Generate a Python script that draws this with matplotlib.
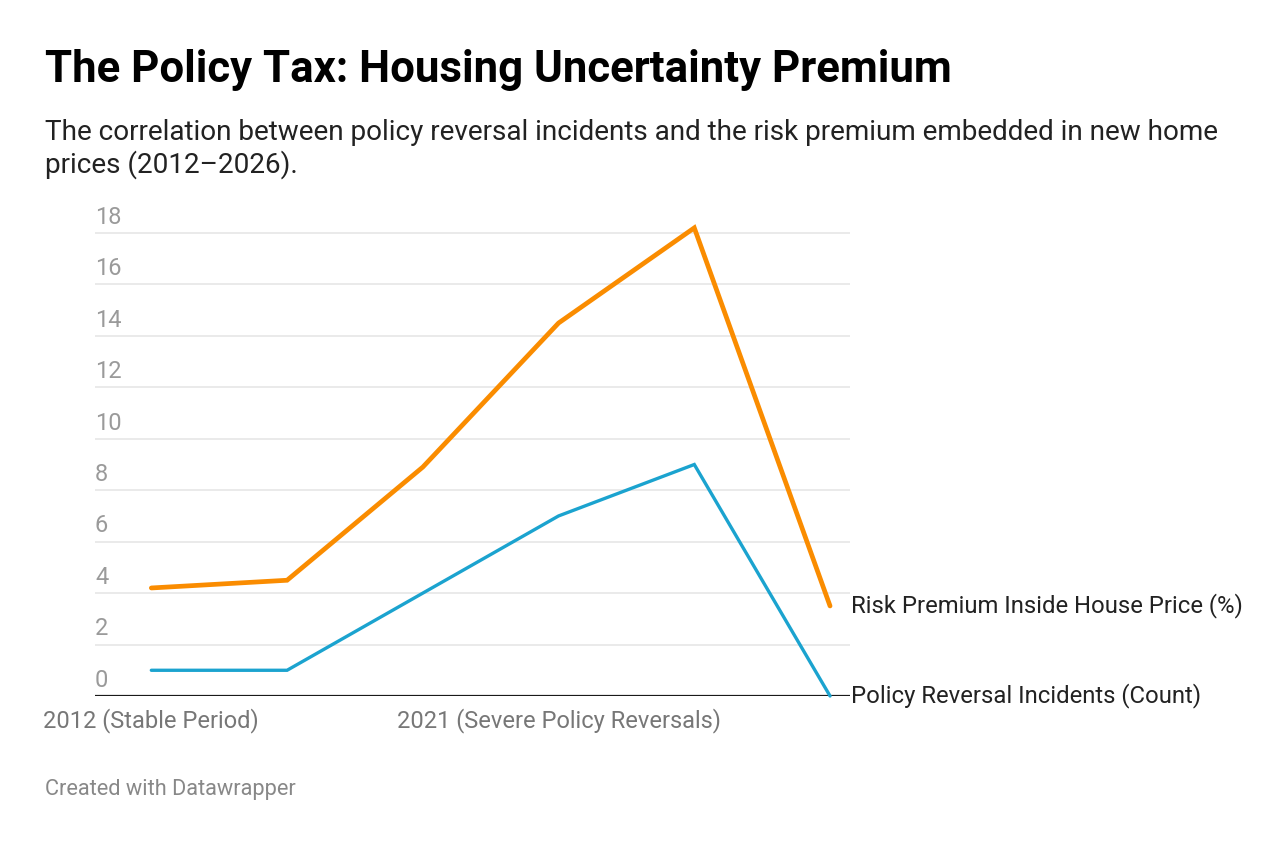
import matplotlib.pyplot as plt
from matplotlib.transforms import blended_transform_factory

plt.rcParams['font.family'] = ['Roboto', 'DejaVu Sans']

# dados
pontos = [0, 1, 2, 3, 4, 5]
premio_risco = [4.2, 4.5, 8.9, 14.5, 18.2, 3.5]
incidentes = [1, 1, 4, 7, 9, 0]
rotulos_x = ["2012 (Stable Period)", "2021 (Severe Policy Reversals)"]
pos_rotulos_x = [0, 3]
yticks = [0, 2, 4, 6, 8, 10, 12, 14, 16, 18]

W, H = 1288, 848
fig = plt.figure(figsize=(W / 100, H / 100), dpi=100)

# eixo em pixels: esquerda 95, direita 850, base 696
ymax = 18.5
y0, y18 = 696, 233
topo = y0 - (y0 - y18) / 18 * ymax
ax = fig.add_axes([95 / W, 1 - y0 / H, (850 - 95) / W, (y0 - topo) / H])

esq = -0.415
dir_ = 5 + (850 - 830) / 136
ax.set_xlim(esq, dir_)
ax.set_ylim(0, ymax)

for v in yticks[1:]:
    ax.axhline(v, color='#e6e6e6', lw=1.2, zorder=0)
ax.axhline(0, color='#1a1a1a', lw=1.6, zorder=3)

ax.plot(pontos, premio_risco, color='#fa8c00', lw=3.4, solid_capstyle='round',
        solid_joinstyle='miter', zorder=4, clip_on=False)
ax.plot(pontos, incidentes, color='#1ba3cf', lw=2.4, solid_capstyle='round',
        solid_joinstyle='miter', zorder=4, clip_on=False)

for s in ax.spines.values():
    s.set_visible(False)
ax.set_yticks([])
ax.set_xticks(pos_rotulos_x)
ax.set_xticklabels(rotulos_x, fontsize=17, color='#777777')
ax.tick_params(axis='x', length=0, pad=9)

# rótulos do eixo y acima das linhas de grade
trans = blended_transform_factory(ax.transAxes, ax.transData)
for v in yticks:
    ax.annotate(str(v), xy=(0, v), xycoords=trans, xytext=(0, 3),
                textcoords='offset points', ha='left', va='bottom',
                fontsize=17, color='#9a9a9a')

# rótulos das linhas
ax.annotate("Risk Premium Inside House Price (%)", xy=(dir_, premio_risco[-1]),
            xytext=(0.5, 0), textcoords='offset points', ha='left', va='center',
            fontsize=17.2, color='#222222', annotation_clip=False)
ax.annotate("Policy Reversal Incidents (Count)", xy=(dir_, incidentes[-1]),
            xytext=(0.5, 0), textcoords='offset points', ha='left', va='center',
            fontsize=17.2, color='#222222', annotation_clip=False)

fig.text(45 / W, 1 - 70 / H, "The Policy Tax: Housing Uncertainty Premium",
         fontsize=31.5, fontweight='bold', color='#000000', va='center', ha='left')
fig.text(45 / W, 1 - 149 / H,
         "The correlation between policy reversal incidents and the risk premium embedded in new home\nprices (2012\u20132026).",
         fontsize=20.1, color='#222222', va='center', ha='left', linespacing=1.2)
fig.text(45 / W, 1 - 789 / H, "Created with Datawrapper", fontsize=15.7,
         color='#888888', va='center', ha='left')

fig.savefig('out.png', dpi=100, facecolor='white')
